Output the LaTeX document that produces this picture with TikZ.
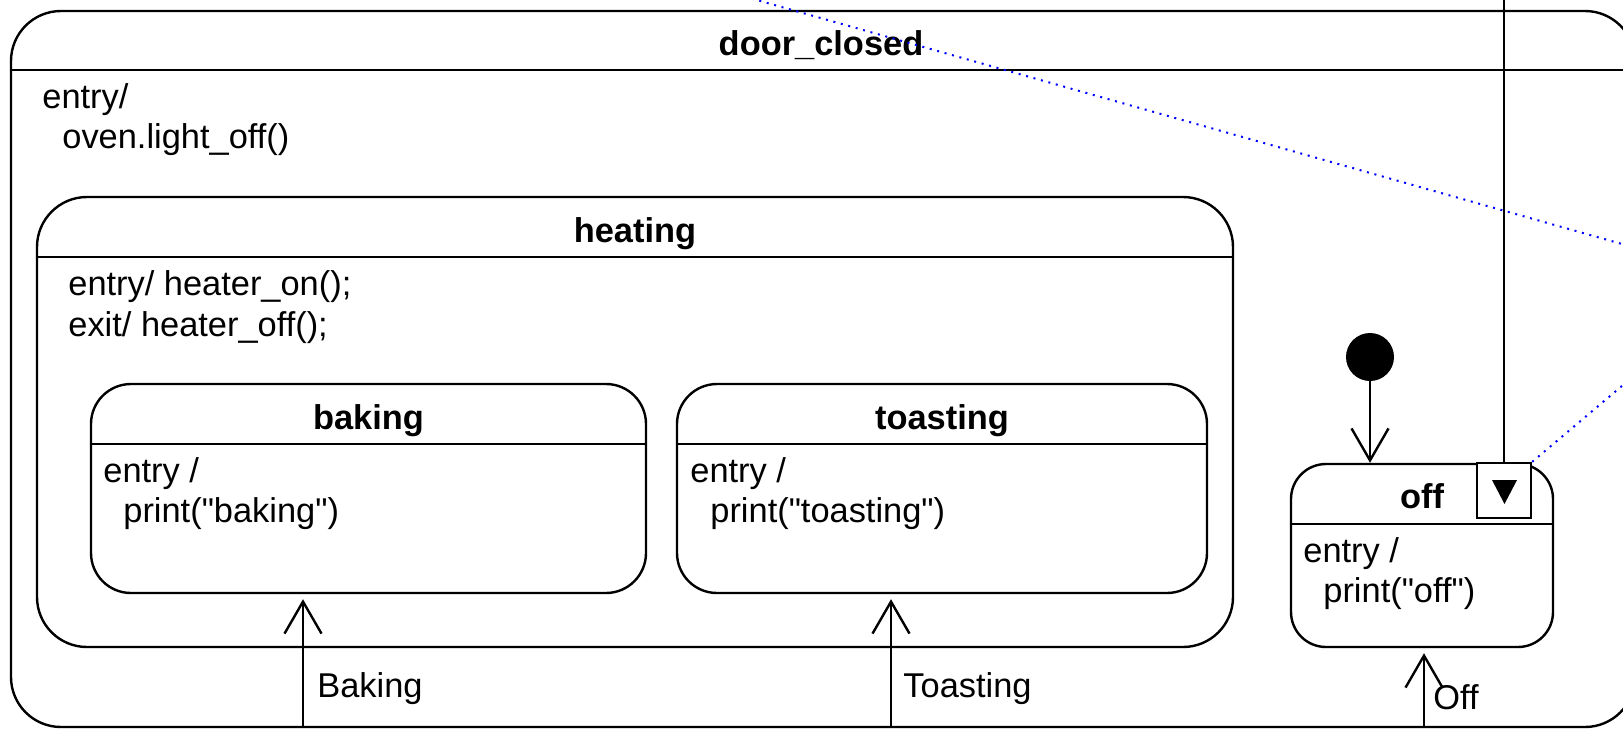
\documentclass[tikz,border=0pt]{standalone}
\usepackage{fontspec}
\setmainfont{Liberation Sans}[Ligatures=TeXOff]
\usetikzlibrary{arrows.meta}
\begin{document}
\begin{tikzpicture}[x=0.5pt,y=-0.5pt,
  stbox/.style={draw, line width=1.2pt, rounded corners=#1, inner sep=0pt},
  ttl/.style={anchor=base, font=\fontsize{17.2pt}{20pt}\selectfont\bfseries, inner sep=0pt},
  txt/.style={anchor=base west, font=\fontsize{17.2pt}{20pt}\selectfont, inner sep=0pt},
  trans/.style={line width=1.2pt, -{Straight Barb[length=16pt,width=18.5pt]}},
  sepline/.style={line width=1.2pt},
  note/.style={blue, line width=1pt, dash pattern=on 1pt off 2.85pt}
]
\useasboundingbox (0,0) rectangle (1623,729);
\clip (0,0) rectangle (1623,729);

% door_closed
\node[stbox=25pt, minimum width=812pt, minimum height=358pt] (door) at (823,369) {};
\draw[sepline] ([yshift=-30pt]door.north west) -- ([yshift=-30pt]door.north east);
\node[ttl] (doorT) at (821,55) {door\_closed};
\node[txt] (doorE1) at (42,108) {entry/};
\node[txt] (doorE2) at (62,148) {oven.light\_off()};

% heating
\node[stbox=25pt, minimum width=598pt, minimum height=225pt] (heating) at (635,422) {};
\draw[sepline] ([yshift=-30.5pt]heating.north west) -- ([yshift=-30.5pt]heating.north east);
\node[ttl] (heatT) at (635,242) {heating};
\node[txt] (heatE1) at (68,295) {entry/ heater\_on();};
\node[txt] (heatE2) at (68,336) {exit/ heater\_off();};

% baking
\node[stbox=20pt, minimum width=277.5pt, minimum height=104.5pt] (baking) at (368.5,488.5) {};
\draw[sepline] ([yshift=-30.5pt]baking.north west) -- ([yshift=-30.5pt]baking.north east);
\node[ttl] (bakT) at (368.5,429) {baking};
\node[txt] (bakE1) at (103,482) {entry /};
\node[txt] (bakE2) at (123,522) {print("baking")};

% toasting
\node[stbox=20pt, minimum width=265pt, minimum height=104.5pt] (toasting) at (942,488.5) {};
\draw[sepline] ([yshift=-30.5pt]toasting.north west) -- ([yshift=-30.5pt]toasting.north east);
\node[ttl] (toaT) at (942,429) {toasting};
\node[txt] (toaE1) at (690,482) {entry /};
\node[txt] (toaE2) at (710,522) {print("toasting")};

% off
\node[stbox=17.5pt, minimum width=131pt, minimum height=91.5pt] (off) at (1422,555.5) {};
\draw[sepline] ([yshift=-30.5pt]off.north west) -- ([yshift=-30.5pt]off.north east);
\node[ttl] (offT) at (1422,508) {off};
\node[txt] (offE1) at (1303,562) {entry /};
\node[txt] (offE2) at (1323,602) {print("off")};
\node[draw, line width=1.2pt, fill=white, minimum width=27pt, minimum height=27.5pt, inner sep=0pt] (offmark) at (1504,490.5) {};
\fill (1492,480) -- (1517,480) -- (1504.5,504) -- cycle;

% initial
\node[circle, fill, minimum size=24pt, inner sep=0pt] (init) at (1370,357) {};
\draw[trans] (init) -- (init |- off.north);

% transitions
\coordinate (bakeS) at (303,727);
\draw[trans, shorten >=2.5pt] (bakeS) -- (bakeS |- baking.south);
\node[txt] (bakL) at (317,697) {Baking};

\coordinate (toaS) at (891,727);
\draw[trans, shorten >=2.5pt] (toaS) -- (toaS |- toasting.south);
\node[txt] (toaL) at (903,697) {Toasting};

\coordinate (offS) at (1424,727);
\draw[trans, shorten >=2.5pt] (offS) -- (offS |- off.south);
\node[txt] (offL) at (1433,709) {Off};

% line into the submachine marker
\coordinate (vtop) at (1504,-20);
\draw[sepline] (vtop) -- (offmark.north);

% note anchors
\coordinate (n1a) at (700,-16);
\coordinate (n1b) at (1700,266);
\draw[note] (n1a) -- (n1b);
\coordinate (n2b) at (1700,320);
\draw[note] (offmark.north east) -- (n2b);
\end{tikzpicture}
\end{document}
